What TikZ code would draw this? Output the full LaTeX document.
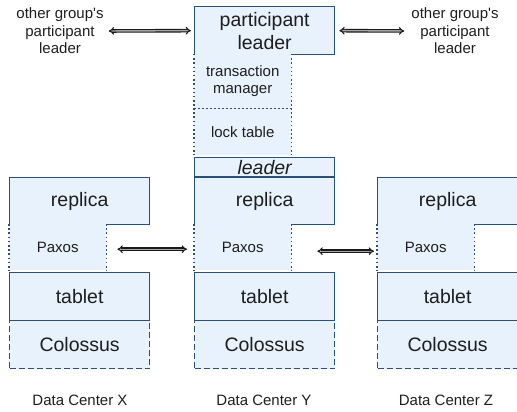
\documentclass[tikz,border=0pt]{standalone}
\usepackage{fontspec}
\setmainfont{Liberation Sans}
\usetikzlibrary{arrows.meta}
\definecolor{boxline}{HTML}{2B5078}
\definecolor{boxfill}{HTML}{E8F2FC}
\definecolor{ink}{HTML}{1E1E1E}

\begin{document}
\begin{tikzpicture}[x=1pt,y=-1pt,
  every node/.style={text=ink, inner sep=0pt},
  big/.style={font=\fontsize{19.5}{23}\selectfont},
  small/.style={font=\fontsize{15}{17.5}\selectfont},
  layer/.style={draw=boxline, fill=boxfill, line width=1.3pt, anchor=north west,
    minimum width=140pt, minimum height=47pt, big},
  store/.style={layer, dash pattern=on 6pt off 3pt},
  band/.style={fill=boxfill, anchor=north west, minimum width=97pt, small},
  side/.style={draw=boxline, line width=1.5pt, dash pattern=on 1.5pt off 2.7pt},
  link/.style={draw=black!90, line width=1.1pt, double=black!35, double distance=1.4pt,
    {Implies}-{Implies}},
  group/.style={small, align=center}]
\useasboundingbox (0,0) rectangle (517,412);

% Data Center X
\node[layer] (repx) at (9,177) {replica};
\node[band, minimum height=46pt] (paxx) at (9,224) {Paxos};
\node[layer, minimum height=48pt] (tabx) at (9,272) {tablet};
\node[store, minimum height=48pt] (collx) at (9,320) {Colossus};
\node[small] (dcx) at (80,400) {Data Center X};
\draw[side] (paxx.north west) -- (paxx.south west) (paxx.north east) -- (paxx.south east);

% Data Center Y
\node[layer, minimum height=48pt, align=center] (plead) at (194,6) {participant\\leader};
\node[band, minimum height=54pt, align=center] (tman) at (194,54) {transaction\\manager};
\node[band, minimum height=47pt] (ltab) at (194,108) {lock table};
\node[layer, minimum height=19pt, font=\fontsize{19.5}{23}\selectfont\itshape] (lead) at (194,157) {leader};
\node[layer] (repy) at (194,177) {replica};
\node[band, minimum height=46pt] (paxy) at (194,224) {Paxos};
\node[layer, minimum height=48pt] (taby) at (194,272) {tablet};
\node[store, minimum height=48pt] (colly) at (194,320) {Colossus};
\node[small] (dcy) at (264,400) {Data Center Y};
\draw[side] (tman.north west) -- (tman.south west) (tman.north east) -- (tman.south east);
\draw[side] (ltab.north west) -- (ltab.south west) (ltab.north east) -- (ltab.south east);
\draw[side, dash pattern=on 2pt off 2pt] (tman.south west) -- (tman.south east);
\draw[side] (paxy.north west) -- (paxy.south west) (paxy.north east) -- (paxy.south east);

% Data Center Z
\node[layer] (repz) at (377,177) {replica};
\node[band, minimum height=46pt] (paxz) at (377,224) {Paxos};
\node[layer, minimum height=48pt] (tabz) at (377,272) {tablet};
\node[store, minimum height=48pt] (collz) at (377,320) {Colossus};
\node[small] (dcz) at (446,400) {Data Center Z};
\draw[side] (paxz.north west) -- (paxz.south west) (paxz.north east) -- (paxz.south east);

% other groups
\node[group] (lgrp) at (60,31) {other group\textquotesingle s\\participant\\leader};
\node[group] (rgrp) at (455,31) {other group\textquotesingle s\\participant\\leader};

\draw[link, shorten <=5pt, shorten >=3pt] (lgrp.east) -- (plead.west);
\draw[link, shorten <=4pt, shorten >=7pt] (plead.east) -- (rgrp.west);
\draw[link, shorten <=11pt, shorten >=7pt] ([yshift=-2pt]paxx.east) -- ([yshift=-2pt]paxy.west);
\draw[link, shorten <=26pt, shorten >=3pt] ([yshift=-4pt]paxy.east) -- ([yshift=-4pt]paxz.west);

\end{tikzpicture}
\end{document}
